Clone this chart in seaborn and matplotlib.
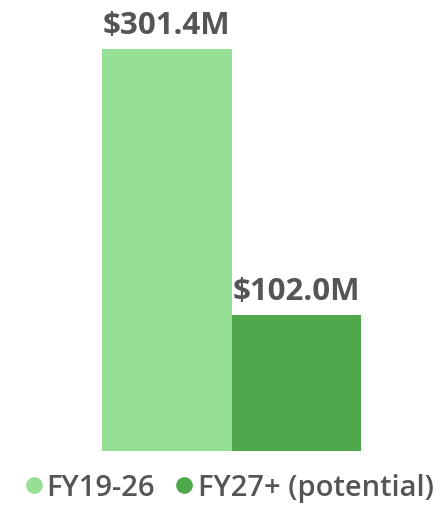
import matplotlib
matplotlib.use("Agg")
import matplotlib.pyplot as plt
from matplotlib.lines import Line2D
import seaborn as sns
import pandas as pd

categories = ["FY19-26", "FY27+ (potential)"]
values = [301.4, 102.0]
labels = ["$301.4M", "$102.0M"]
colors = ["#96e096", "#4fa84c"]

sns.set_style("white")
plt.rcParams['font.family'] = ['Open Sans', 'DejaVu Sans']

df = pd.DataFrame({"period": categories, "value": values})

fig = plt.figure(figsize=(4.42, 5.06), dpi=100)
ax = fig.add_axes([102/442, 1-452/506, (361-102)/442, 452/506])
sns.barplot(data=df, x="period", y="value", hue="period", palette=colors,
            width=1.0, dodge=False, legend=False, ax=ax, saturation=1,
            linewidth=0, edgecolor="none")
ax.set_xlim(-0.5, 1.5)
ax.set_ylim(0, 301.4*452/402)
ax.axis("off")

for i, (v, lab) in enumerate(zip(values, labels)):
    ax.text(i, v + 7, lab, ha="center", va="bottom", fontsize=22.5,
            fontweight="bold", color="#555555")

handles = [Line2D([0], [0], marker="o", linestyle="", markersize=11,
                  markerfacecolor=c, markeredgecolor=c) for c in colors]
fig.legend(handles, categories, loc="center", bbox_to_anchor=(0.52, 1-489/506),
           ncol=2, frameon=False, handletextpad=0.2,
           columnspacing=0.75, labelcolor="#555555", handlelength=0.5,
           prop={"weight": "semibold", "size": 21})

fig.savefig("out.png", dpi=100)
